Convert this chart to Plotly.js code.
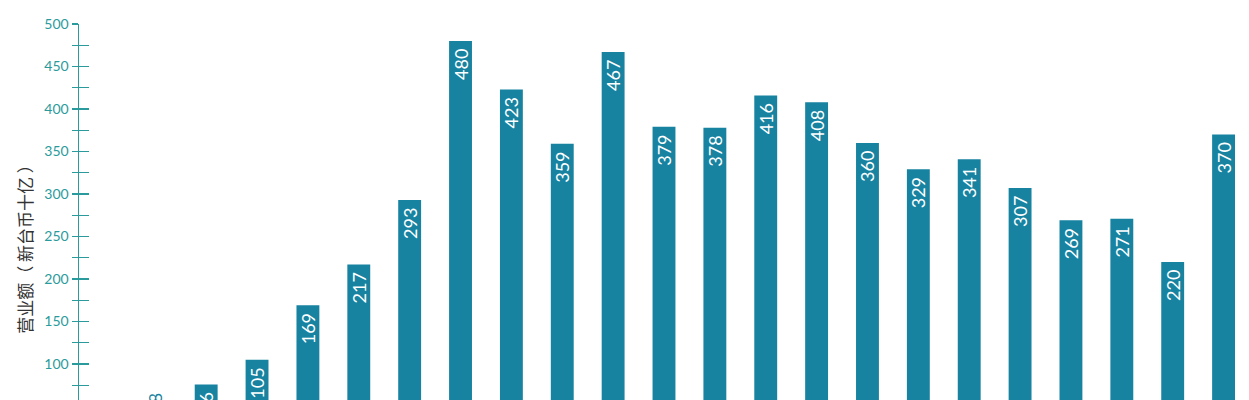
<!DOCTYPE html>
<html>
<head>
<meta charset="utf-8">
<script src="https://cdn.plot.ly/plotly-3.0.1.min.js"></script>
<style>
  html, body { margin: 0; padding: 0; background: #ffffff; }
  #chart { width: 1249px; height: 520px; }
</style>
</head>
<body>
<div id="chart"></div>
<script>
// Yearly revenue, NT$ billions
const years = ['2000', '2001', '2002', '2003', '2004', '2005', '2006', '2007',
               '2008', '2009', '2010', '2011', '2012', '2013', '2014', '2015',
               '2016', '2017', '2018', '2019', '2020', '2021', '2022'];
const revenue = [20, 38, 76, 105, 169, 217, 293, 480, 423, 359, 467, 379,
                 378, 416, 408, 360, 329, 341, 307, 269, 271, 220, 370];

const barColor = '#1783a1';
const axisColor = '#2a9b9c';
const labelFont = 'Lato, "Open Sans", sans-serif';

// short bars carry their label above the bar
const positions = revenue.map(v => (v < 50 ? 'outside' : 'inside'));

const bars = {
  type: 'bar',
  x: years,
  y: revenue,
  marker: { color: barColor },
  // trailing space gives the rotated label a little air below the bar top
  texttemplate: '%{y} ',
  textposition: positions,
  textangle: -90,
  insidetextanchor: 'end',
  constraintext: 'none',
  insidetextfont: { color: '#ffffff', size: 18, family: labelFont },
  outsidetextfont: { color: barColor, size: 18, family: labelFont },
  cliponaxis: false,
  hoverinfo: 'x+y'
};

// invisible companion trace so the second y axis (inward ticks) is drawn
const ghost = {
  type: 'scatter', mode: 'markers', x: [years[0]], y: [0],
  yaxis: 'y2', marker: { opacity: 0 }, hoverinfo: 'skip', showlegend: false
};

const tickStyle = {
  range: [-20, 500],
  tickmode: 'linear', tick0: 0, dtick: 50,
  tickcolor: axisColor, tickwidth: 1.3,
  minor: { dtick: 25, ticks: 'outside', ticklen: 6, tickcolor: axisColor, tickwidth: 1.3 },
  showgrid: false, zeroline: false,
  fixedrange: true
};

const layout = {
  width: 1249,
  height: 520,
  margin: { l: 79, r: 0, t: 24, b: 54 },
  paper_bgcolor: '#ffffff',
  plot_bgcolor: '#ffffff',
  showlegend: false,
  bargap: 0.55,
  font: { family: labelFont },
  xaxis: {
    type: 'category',
    range: [-0.5, years.length - 0.5],
    showline: false,
    ticks: '',
    tickfont: { color: axisColor, size: 14 },
    fixedrange: true
  },
  yaxis: Object.assign({}, tickStyle, {
    showline: true, linecolor: axisColor, linewidth: 1.5,
    ticks: 'outside', ticklen: 6,
    tickfont: { color: axisColor, size: 14, family: labelFont },
    title: {
      text: '营业额（ 新台币十亿 ）',
      font: { color: '#333333', size: 17, family: '"Noto Sans CJK SC", sans-serif' },
      standoff: 7
    }
  }),
  yaxis2: Object.assign({}, tickStyle, {
    overlaying: 'y', side: 'left', anchor: 'x',
    showline: false,
    ticks: 'inside', ticklen: 10,
    minor: { dtick: 25, ticks: 'inside', ticklen: 10, tickcolor: axisColor, tickwidth: 1.3 },
    showticklabels: false
  })
};

Plotly.newPlot('chart', [bars, ghost], layout, { displayModeBar: false, staticPlot: true });
</script>
</body>
</html>
